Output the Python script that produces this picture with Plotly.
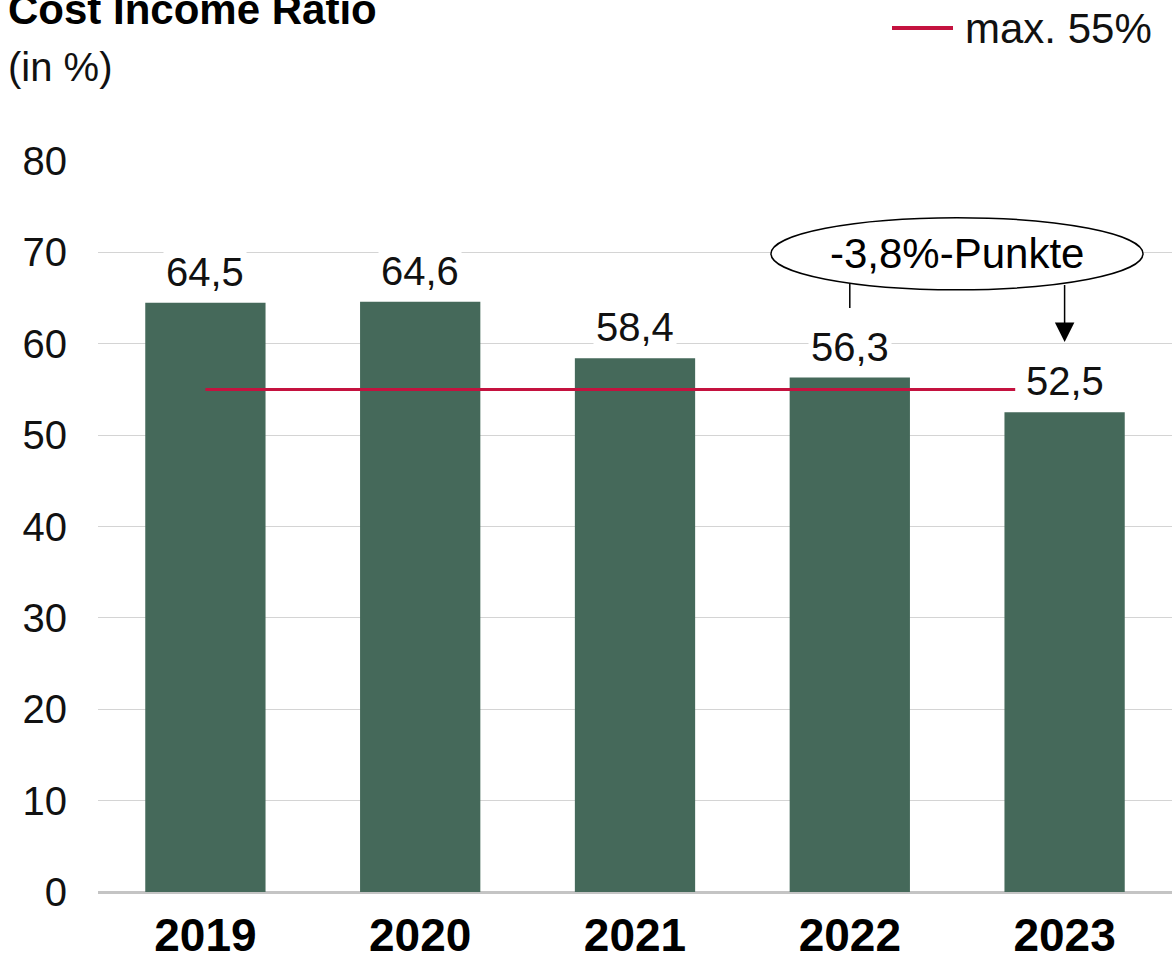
import plotly.graph_objects as go

years = ["2019", "2020", "2021", "2022", "2023"]
ratios = [64.5, 64.6, 58.4, 56.3, 52.5]
labels = ["64,5", "64,6", "58,4", "56,3", "52,5"]
target_value = 55
target_x = [0, 3.77]
y_ticks = [0, 10, 20, 30, 40, 50, 60, 70, 80]

bar_color = "#45695a"
red = "#c4123f"
font_reg = "Liberation Sans, Arial, sans-serif"

xs = list(range(len(years)))

fig = go.Figure()
fig.add_trace(go.Bar(x=xs, y=ratios, marker=dict(color=bar_color, line=dict(width=0)),
                     width=0.56, showlegend=False, hoverinfo="skip"))
fig.add_trace(go.Scatter(x=target_x, y=[target_value, target_value], mode="lines",
                         line=dict(color=red, width=3), showlegend=False, hoverinfo="skip"))

annotations = []
for x, v, t in zip(xs, ratios, labels):
    annotations.append(dict(x=x, y=v, text=t, showarrow=False, yanchor="bottom",
                            yshift=6, bgcolor="white", borderpad=2,
                            font=dict(family=font_reg, size=40, color="#111111")))

shapes = [
    dict(type="circle", xref="x", yref="y", x0=2.633, x1=4.365, y0=65.9, y1=73.8,
         line=dict(color="black", width=1.5), fillcolor="white", layer="above"),
    dict(type="line", xref="x", yref="y", x0=3, x1=3, y0=66.6, y1=63.9,
         line=dict(color="black", width=1.5)),
    dict(type="line", xref="paper", yref="paper",
         x0=(892 - 98) / 1074, x1=(953 - 98) / 1074,
         y0=(892 - 28) / 731, y1=(892 - 28) / 731,
         line=dict(color=red, width=4)),
]
annotations.append(dict(x=3.5, y=69.85, xref="x", yref="y", text="-3,8%-Punkte",
                        showarrow=False, font=dict(family=font_reg, size=42, color="black")))
annotations.append(dict(x=4, y=60.2, xref="x", yref="y", ax=4, ay=66.6, axref="x", ayref="y",
                        text="", showarrow=True, arrowhead=2, arrowsize=2.6, arrowwidth=1.5,
                        arrowcolor="black"))
annotations.append(dict(xref="paper", yref="paper", x=(963 - 98) / 1074, y=(892 - 28) / 731,
                        xanchor="left", yanchor="middle", text="max. 55%", showarrow=False,
                        font=dict(family=font_reg, size=42, color="#111111")))
annotations.append(dict(xref="paper", yref="paper", x=(6 - 98) / 1074, y=(892 - 10) / 731,
                        xanchor="left", yanchor="middle", text="<b>Cost Income Ratio</b>",
                        showarrow=False, font=dict(family=font_reg, size=42, color="black")))
annotations.append(dict(xref="paper", yref="paper", x=(6 - 98) / 1074, y=(892 - 67) / 731,
                        xanchor="left", yanchor="middle", text="(in %)",
                        showarrow=False, font=dict(family=font_reg, size=40, color="#111111")))

fig.update_layout(
    width=1172, height=955,
    margin=dict(l=98, r=0, t=161, b=63, autoexpand=False),
    plot_bgcolor="white", paper_bgcolor="white",
    bargap=0.44,
    shapes=shapes, annotations=annotations,
    xaxis=dict(range=[-0.5, 4.5], tickmode="array", tickvals=xs, automargin=False,
               ticktext=["<b>%s</b>" % y for y in years], showgrid=False, zeroline=False,
               showline=False, ticks="", ticklabelstandoff=12,
               tickfont=dict(family=font_reg, size=46, color="black")),
    yaxis=dict(range=[0, 80], tickmode="array", tickvals=y_ticks, showgrid=True, automargin=False,
               gridcolor="#d4d4d4", gridwidth=1, zeroline=True, zerolinecolor="#c4c4c4",
               zerolinewidth=2.5, showline=False, ticks="", ticklabelstandoff=30,
               tickfont=dict(family=font_reg, size=40, color="#111111")),
)

fig.write_html("out.html", config={"displayModeBar": False},
               post_script="document.body.style.margin='0';")
